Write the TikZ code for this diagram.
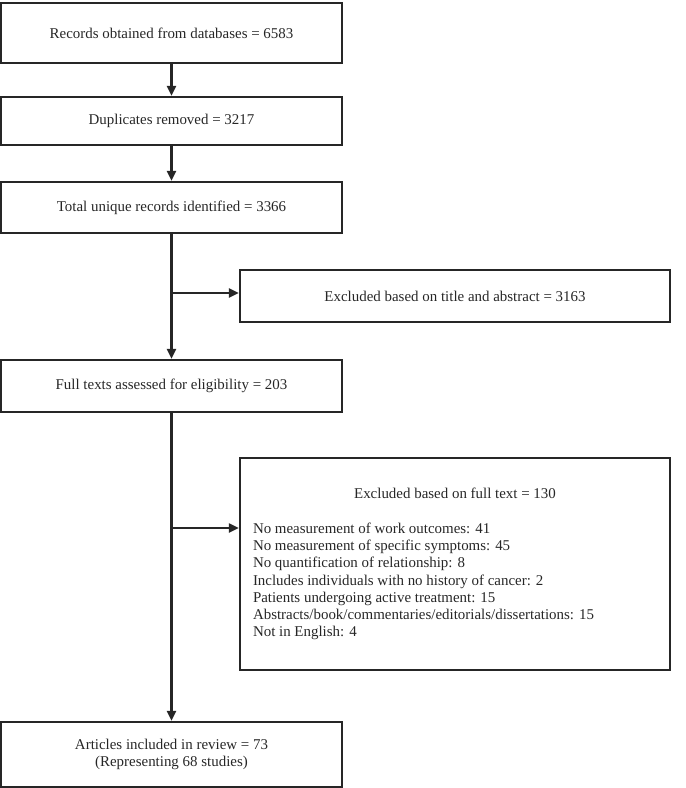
\documentclass[tikz,border=0pt]{standalone}
\usepackage{fontspec}
\setmainfont{Liberation Serif}
\usepackage{tikz}
\usetikzlibrary{calc, arrows.meta}

\begin{document}
\begin{tikzpicture}[
    box/.style={draw=black!85, line width=1.3pt, text=black!85, align=center,
      font=\fontsize{8.5}{9.8}\selectfont, inner sep=0pt},
    mainbox/.style={box, minimum width=6.82cm},
    exbox/.style={box, minimum width=8.6cm},
    flow/.style={draw=black!85, line width=1.2pt, -{Triangle[length=2mm,width=1.8mm]}}]
    \useasboundingbox (0,0) rectangle (13.7,-15.76);
    \node[mainbox, minimum height=1.2cm] (recs) at (3.43,-0.66) {Records obtained from databases = 6583};
    \node[mainbox, minimum height=0.96cm] (dups) at (3.43,-2.42) {Duplicates removed = 3217};
    \node[mainbox, minimum height=1.02cm] (uniq) at (3.43,-4.15) {Total unique records identified = 3366};
    \node[exbox, minimum height=1.04cm] (extitle) at (9.10,-5.92) {Excluded based on title and abstract = 3163};
    \node[mainbox, minimum height=1.04cm] (full) at (3.43,-7.72) {Full texts assessed for eligibility = 203};
    \node[exbox, minimum height=4.24cm, align=left, inner xsep=0.26cm] (exfull) at (9.10,-11.28) {%
      \makebox[8.08cm]{Excluded based on full text = 130}\\[10pt]
      No measurement of work outcomes: 41\\
      No measurement of specific symptoms: 45\\
      No quantification of relationship: 8\\
      Includes individuals with no history of cancer: 2\\
      Patients undergoing active treatment: 15\\
      Abstracts/book/commentaries/editorials/dissertations: 15\\
      Not in English: 4};
    \node[mainbox, minimum height=1.3cm] (incl) at (3.43,-15.09) {Articles included in review = 73\\(Representing 68 studies)};
    % branch points
    \coordinate (jtitle) at (3.43,-5.86);
    \coordinate (jfull) at (3.43,-10.56);
    % main column
    \draw[flow] (recs) -- (dups);
    \draw[flow] (dups) -- (uniq);
    \draw[flow] (uniq) -- (full);
    \draw[flow] (full) -- (incl);
    % exclusions
    \draw[flow] (jtitle) -- (jtitle -| extitle.west);
    \draw[flow] (jfull) -- (jfull -| exfull.west);
\end{tikzpicture}
\end{document}
